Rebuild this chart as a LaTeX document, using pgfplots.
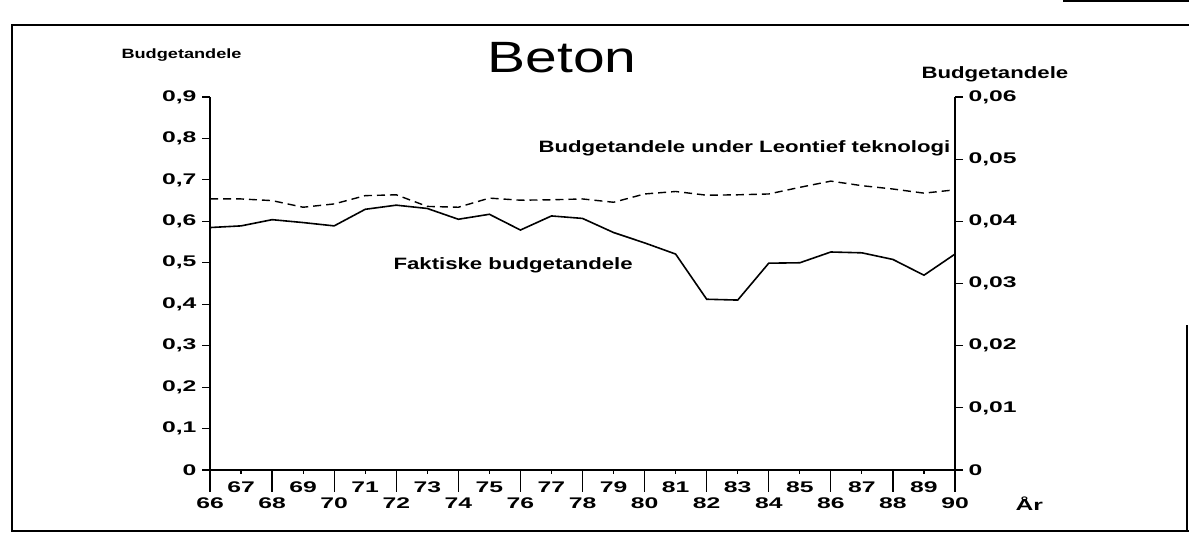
\documentclass[border=0pt]{standalone}
\usepackage{fontspec}
\setmainfont{Liberation Sans}[FakeStretch=1.35]
\newfontfamily\titlefont{Liberation Sans}[FakeStretch=1.3]
\newfontfamily\tickfont{Liberation Sans}[FakeStretch=1.6]
\usepackage{pgfplots}
\pgfplotsset{compat=1.18}
\usepackage{pgfplotstable}

\pgfplotstableread{
yr faktisk leontief
66 0.585 0.654
67 0.589 0.654
68 0.604 0.650
69 0.597 0.634
70 0.589 0.642
71 0.629 0.662
72 0.639 0.664
73 0.631 0.636
74 0.605 0.634
75 0.617 0.656
76 0.579 0.651
77 0.613 0.652
78 0.607 0.654
79 0.573 0.646
80 0.548 0.666
81 0.521 0.672
82 0.412 0.663
83 0.410 0.664
84 0.499 0.666
85 0.500 0.682
86 0.526 0.697
87 0.524 0.686
88 0.508 0.678
89 0.470 0.668
90 0.521 0.676
}\datatable

\newcommand{\lbl}{\bfseries\fontsize{13.5}{13.5}\selectfont}
\newcommand{\biglbl}{\bfseries\fontsize{16.5}{16.5}\selectfont}
\newcommand{\tlbl}{\tickfont\bfseries\fontsize{15.5}{15.5}\selectfont}

\pgfplotsset{
  base/.style={
    scale only axis, width=745bp, height=373bp,
    at={(210bp,90bp)}, anchor=south west,
    xmin=66, xmax=90, clip=false,
    axis line style={line width=1.4bp},
    every tick/.style={line width=1.2bp, black},
    tick align=outside,
    ticklabel style={font=\tlbl},
    scaled ticks=false,
  }
}

\begin{document}
\begin{tikzpicture}[x=1bp,y=1bp]
\useasboundingbox (0,0) rectangle (1189,560);
% frame
\draw[line width=1.8bp] (1189,535) -- (12,535) -- (12,29) -- (1189,29);
\draw[line width=1.8bp] (1187,29) -- (1187,235);
\draw[line width=1.8bp] (1063,559) -- (1189,559);

% even-year ticks (long) with lower labels
\begin{axis}[base, ymin=0, ymax=0.9,
  axis y line=none, axis x line*=bottom,
  xtick={66,68,...,90}, xticklabels={66,68,70,72,74,76,78,80,82,84,86,88,90},
  major tick length=22bp,
  xticklabel style={anchor=center, yshift=-11bp}]
\end{axis}

% odd-year ticks (short) with upper labels
\begin{axis}[base, ymin=0, ymax=0.9,
  axis y line=none, axis x line*=bottom,
  xtick={67,69,...,89}, xticklabels={67,69,71,73,75,77,79,81,83,85,87,89},
  major tick length=4bp,
  xticklabel style={anchor=center, yshift=-13bp}]
\end{axis}

% left axis with data
\begin{axis}[base, ymin=0, ymax=0.9,
  axis x line=none, axis y line*=left,
  major tick length=8bp,
  ytick={0,0.1,...,0.9},
  yticklabels={0,{0,1},{0,2},{0,3},{0,4},{0,5},{0,6},{0,7},{0,8},{0,9}},
  yticklabel style={anchor=east, xshift=-2bp}]
\addplot[black, line width=1.6bp] table[x=yr, y=faktisk] {\datatable};
\addplot[black, line width=1.4bp, dash pattern=on 8bp off 5bp] table[x=yr, y=leontief] {\datatable};
\end{axis}

% right axis
\begin{axis}[base, ymin=0, ymax=0.06,
  axis x line=none, axis y line*=right,
  major tick length=8bp,
  ytick={0,0.01,0.02,0.03,0.04,0.05,0.06},
  yticklabels={0,{0,01},{0,02},{0,03},{0,04},{0,05},{0,06}},
  yticklabel style={anchor=west, xshift=2bp}]
\end{axis}

% texts
\node[font=\titlefont\fontsize{44}{44}\selectfont] at (562,502) {Beton};
\node[font=\lbl, anchor=west] at (118,505) {Budgetandele};
\node[font=\biglbl, anchor=west] at (918,486) {Budgetandele};
\node[font=\biglbl, anchor=west] at (535,412) {Budgetandele under Leontief teknologi};
\node[font=\biglbl, anchor=west] at (390,295) {Faktiske budgetandele};
\node[font=\tlbl, anchor=west] at (1012,56) {År};
\end{tikzpicture}
\end{document}
